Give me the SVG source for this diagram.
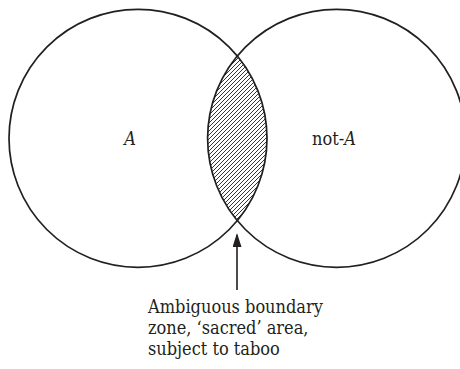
<svg xmlns="http://www.w3.org/2000/svg" width="460" height="369" viewBox="0 0 460 369">
  <style>
    .ring { fill: none; stroke: #231f20; stroke-width: 1.7; }
    .lbl { font-family: 'DejaVu Serif Condensed', 'DejaVu Serif', serif; font-stretch: condensed; font-size: 18px; fill: #231f20; }
    .it { font-style: italic; }
    .conn { stroke: #231f20; stroke-width: 1.6; fill: none; }
  </style>
  <defs>
    <pattern id="hatch" patternUnits="userSpaceOnUse" width="4" height="4">
      <path d="M-1,1 L1,-1 M0,4 L4,0 M3,5 L5,3" stroke="#231f20" stroke-width="0.9"/>
    </pattern>
    <marker id="arrowhead" markerUnits="userSpaceOnUse" viewBox="0 0 14 9" refX="12" refY="4.5" markerWidth="14" markerHeight="9" orient="auto">
      <path d="M0,0 L14,4.5 L0,9 Z" fill="#231f20"/>
    </marker>
  </defs>
  <rect width="460" height="369" fill="#ffffff"/>

  <g id="zone-lens">
    <path d="M237.3,56 A129,129 0 0,0 237.3,220.6 A129,129 0 0,0 237.3,56 Z" fill="url(#hatch)"/>
  </g>

  <g id="circle-a">
    <circle class="ring" cx="138" cy="138.3" r="129"/>
    <text class="lbl it" x="130" y="145" text-anchor="middle">A</text>
  </g>

  <g id="circle-not-a">
    <circle class="ring" cx="336.6" cy="138.3" r="129"/>
    <text class="lbl" x="312" y="144.5">not-<tspan class="it">A</tspan></text>
  </g>

  <g id="connectors">
    <line class="conn" x1="237" y1="290" x2="237" y2="235" marker-end="url(#arrowhead)"/>
  </g>

  <g id="caption">
    <text class="lbl" x="148" y="313">Ambiguous boundary</text>
    <text class="lbl" x="148" y="334">zone, ‘sacred’ area,</text>
    <text class="lbl" x="148" y="355">subject to taboo</text>
  </g>
</svg>
